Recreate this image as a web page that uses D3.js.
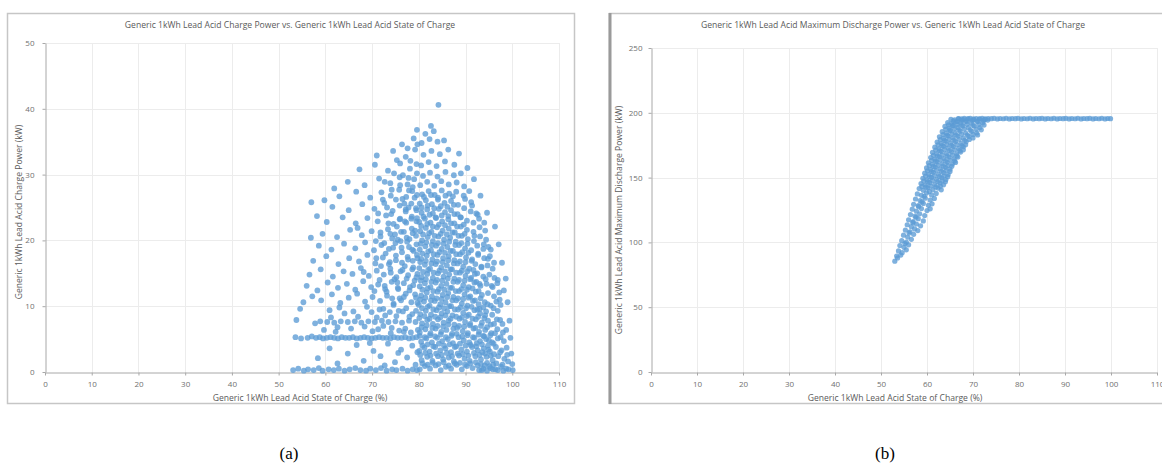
<!DOCTYPE html>
<html>
<head>
<meta charset="utf-8">
<script src="https://cdn.jsdelivr.net/npm/d3@7"></script>
<style>
  body { margin: 0; background: #fff; }
  svg { display: block; font-family: "Open Sans", sans-serif; }
</style>
</head>
<body>
<svg id="chart" width="1162" height="467"></svg>
<script>
// tick labels
const socTicks = [0, 10, 20, 30, 40, 50, 60, 70, 80, 90, 100, 110];
const chargeTicks = [0, 10, 20, 30, 40, 50];
const dischargeTicks = [0, 50, 100, 150, 200, 250];

// (a) charge power vs state of charge, flat lists of [soc %, kW]
const chargeFloor = [53.1,0.3, 54.2,0.5, 55.4,0.2, 56.3,0.4, 57.5,0.3, 58.6,0.6, 59.4,0.2, 60.7,0.4, 61.8,0.3,
  62.9,0.5, 64.1,0.2, 65.2,0.4, 66.4,0.6, 67.5,0.3, 68.7,0.2, 69.6,0.5, 70.8,0.3, 71.9,0.6, 73.1,0.2, 74.3,0.4,
  75.2,0.3, 76.5,0.5, 77.6,0.2, 78.7,0.4, 79.6,0.3, 93.5,0.3, 94.6,0.2, 95.8,0.4, 96.9,0.3, 98.1,0.2, 99.2,0.4, 100.1,0.3];

const chargeBand = [53.6,5.3, 54.8,5.1, 56.2,5.2, 57.1,5.4, 58.0,5.2, 58.8,5.3, 59.5,5.1, 60.3,5.2, 61.1,5.3,
  61.9,5.2, 62.7,5.1, 63.5,5.3, 64.3,5.2, 65.1,5.2, 65.9,5.3, 66.7,5.1, 67.5,5.2, 68.3,5.3, 69.1,5.2, 69.9,5.1,
  70.7,5.2, 71.5,5.3, 72.3,5.2, 73.1,5.2, 73.9,5.1, 74.7,5.3, 75.5,5.2, 76.3,5.2, 77.1,5.3, 77.9,5.1, 78.7,5.2, 79.5,5.3];

const chargeStreak = [57.8,7.4, 58.9,7.7, 59.7,6.4, 60.4,7.6, 61.2,8.3, 61.9,7.5, 62.6,6.8, 63.3,7.7, 64.1,8.9,
  64.8,7.6, 65.5,6.6, 66.3,7.7, 67.0,8.4, 67.7,7.5, 68.4,6.9, 69.2,7.7, 69.9,9.1, 70.6,7.6, 71.3,6.5, 72.1,7.8,
  72.8,8.6, 73.5,7.6, 74.2,6.7, 75.0,7.7, 75.7,9.3, 76.4,7.5, 77.1,6.6, 77.9,7.8, 78.6,8.8, 79.3,7.6, 79.8,6.4,
  60.9,9.4, 63.0,9.8, 66.0,9.2, 68.9,9.9, 71.6,9.5, 74.6,10.2, 77.3,9.7, 62.2,6.1, 70.1,6.2, 76.8,6.1];

const chargeLow = [58.4,2.1, 60.9,3.6, 62.6,1.3, 64.8,2.8, 66.7,4.1, 68.2,1.7, 70.3,3.2, 71.8,2.4, 73.4,4.3,
  74.9,1.5, 76.2,3.4, 77.5,2.2, 78.6,4.0, 79.3,1.1, 75.6,2.9, 72.7,1.0, 69.5,4.4, 79.7,3.0];

const chargeSpread = [55.3,10.6, 57.2,11.5, 59.1,10.9, 61.4,11.8, 63.2,10.5, 65.0,11.3, 66.8,11.9, 68.5,10.7,
  70.1,11.4, 71.7,10.8, 73.2,11.6, 74.6,10.4, 75.9,11.2, 77.2,11.9, 78.4,10.6, 79.4,11.3,
  56.0,13.1, 58.3,12.4, 60.5,13.6, 62.7,12.8, 64.6,13.4, 66.4,12.5, 68.1,13.8, 69.8,12.9, 71.3,13.3, 72.8,12.6,
  74.2,13.7, 75.5,12.8, 76.8,13.5, 78.0,12.4, 79.1,13.9,
  56.6,14.8, 59.0,15.6, 61.6,14.5, 63.9,15.3, 65.8,14.9, 67.6,15.8, 69.3,14.6, 71.0,15.4, 72.5,14.8, 73.9,15.7,
  75.2,14.4, 76.5,15.5, 77.7,14.7, 78.8,15.9, 79.7,14.9,
  57.4,16.9, 60.2,17.6, 62.8,16.4, 65.1,17.3, 67.2,16.8, 69.0,17.8, 70.7,16.5, 72.3,17.4, 73.8,16.7, 75.1,17.7,
  76.4,16.6, 77.6,17.5, 78.7,16.9, 79.6,17.8,
  58.6,19.2, 61.3,18.6, 64.0,19.5, 66.4,18.8, 68.5,19.7, 70.4,18.5, 72.0,19.3, 73.6,18.7, 75.0,19.6, 76.3,18.9,
  77.5,19.8, 78.6,18.6, 79.5,19.4,
  59.4,21.0, 62.5,20.5, 65.3,21.6, 67.8,20.8, 69.9,21.4, 71.8,20.6, 73.4,21.7, 74.9,20.9, 76.2,21.3, 77.4,20.4,
  78.5,21.8, 79.4,20.7,
  60.3,22.8, 63.7,23.5, 66.5,22.6, 69.0,23.4, 71.2,22.9, 73.0,23.8, 74.6,22.5, 76.0,23.3, 77.3,22.7, 78.5,23.6, 79.5,22.9,
  61.5,25.1, 65.0,24.6, 67.9,25.5, 70.5,24.8, 72.6,25.7, 74.4,24.5, 75.9,25.3, 77.2,24.7, 78.4,25.6, 79.4,24.9,
  63.0,26.7, 66.6,27.4, 69.6,26.5, 72.0,27.3, 74.0,26.8, 75.8,27.7, 77.3,26.6, 78.6,27.5, 79.6,26.9,
  64.8,28.9, 68.4,28.4, 71.5,29.4, 73.9,28.7, 75.9,29.6, 77.6,28.5, 79.0,29.3,
  67.3,30.8, 70.6,31.5, 73.4,30.6, 76.0,31.7, 78.1,30.9, 79.5,31.6,
  71.0,32.9, 74.5,33.6, 77.2,32.7, 79.2,33.8, 76.4,34.6, 78.9,35.5,
  53.8,7.9, 54.6,9.6, 56.9,20.4, 58.2,23.7, 59.8,26.1, 61.9,27.9, 57.0,25.8,
  74.3,11.2, 75.6,12.6, 76.8,11.4, 78.1,12.9, 79.2,11.8, 74.8,14.1, 76.1,15.3, 77.4,14.2, 78.6,15.6, 79.5,14.4,
  75.1,17.0, 76.4,18.2, 77.7,17.1, 78.9,18.4, 79.7,17.3, 75.5,20.1, 76.8,21.3, 78.0,20.2, 79.2,21.5,
  75.9,23.2, 77.2,24.4, 78.4,23.3, 79.5,24.6, 76.5,26.3, 77.9,27.6, 79.1,26.5,
  73.1,12.2, 74.0,15.1, 72.9,18.0, 73.9,21.0, 74.1,24.0, 72.4,9.6, 71.9,16.1, 70.8,19.9, 68.2,15.2, 66.9,21.9];

// denser mass just left of 80 %
const chargeMidFill = [70.5,12.3, 71.6,14.0, 72.7,13.1, 73.6,16.4, 74.5,18.9, 75.4,13.6, 76.2,10.9, 77.0,16.1,
  77.9,19.0, 78.8,13.2, 79.7,10.5,
  70.9,17.3, 71.8,21.2, 72.6,19.6, 73.5,22.6, 74.3,20.3, 75.3,22.1, 76.1,19.9, 77.0,22.9, 77.8,25.0, 78.7,21.1, 79.6,23.4,
  71.3,24.1, 72.3,26.2, 73.2,25.0, 74.2,27.7, 75.1,26.2, 76.0,28.4, 76.9,25.6, 77.8,29.5, 78.7,28.1, 79.6,30.2,
  72.7,28.9, 74.7,30.2, 76.6,29.9, 78.2,32.1, 79.7,34.6, 75.3,32.2, 77.6,34.0,
  73.8,9.1, 75.2,8.5, 76.6,9.2, 78.0,8.4, 79.4,9.3, 71.0,8.3, 72.4,7.0, 74.0,5.9, 75.8,6.3, 78.3,6.0];

const chargeCore = [80.2,0.4, 81.3,0.9, 82.4,0.5, 83.6,1.0, 84.7,0.3, 85.8,0.8, 86.9,0.5, 88.1,1.1, 89.2,0.4,
  90.3,0.9, 91.5,0.6, 92.6,1.0, 93.8,0.5, 95.1,0.9, 96.4,0.4, 97.6,0.8, 98.7,0.5,
  80.6,1.8, 81.8,2.3, 82.9,1.7, 84.1,2.4, 85.2,1.9, 86.4,2.2, 87.5,1.6, 88.6,2.5, 89.8,2.0, 90.9,1.7, 92.1,2.4,
  93.3,1.9, 94.5,2.3, 95.8,1.8, 97.0,2.4, 98.3,2.0, 99.1,1.6,
  80.1,3.2, 81.2,3.7, 82.3,3.1, 83.5,3.8, 84.6,3.3, 85.7,3.6, 86.9,3.0, 88.0,3.9, 89.1,3.4, 90.3,3.1, 91.4,3.8,
  92.6,3.3, 93.9,3.6, 95.2,3.1, 96.5,3.8, 97.7,3.3, 98.8,3.7,
  80.5,4.6, 81.6,5.1, 82.8,4.5, 83.9,5.2, 85.0,4.7, 86.2,5.0, 87.3,4.4, 88.5,5.3, 89.6,4.8, 90.8,4.5, 91.9,5.2,
  93.1,4.7, 94.4,5.0, 95.7,4.5, 96.9,5.1, 98.2,4.7,
  80.2,6.0, 81.4,6.5, 82.5,5.9, 83.6,6.6, 84.8,6.1, 85.9,6.4, 87.1,5.8, 88.2,6.7, 89.4,6.2, 90.5,5.9, 91.7,6.6,
  92.9,6.1, 94.2,6.4, 95.5,5.9, 96.8,6.5, 98.0,6.0,
  80.7,7.4, 81.8,7.9, 83.0,7.3, 84.1,8.0, 85.3,7.5, 86.4,7.8, 87.6,7.2, 88.7,8.1, 89.9,7.6, 91.0,7.3, 92.2,8.0,
  93.5,7.5, 94.8,7.8, 96.1,7.3, 97.4,7.9,
  80.3,8.8, 81.5,9.3, 82.6,8.7, 83.8,9.4, 84.9,8.9, 86.1,9.2, 87.2,8.6, 88.4,9.5, 89.5,9.0, 90.7,8.7, 91.9,9.4,
  93.1,8.9, 94.4,9.2, 95.7,8.7, 96.9,9.3,
  80.0,10.2, 81.1,10.7, 82.3,10.1, 83.4,10.8, 84.6,10.3, 85.7,10.6, 86.9,10.0, 88.0,10.9, 89.2,10.4, 90.4,10.1,
  91.6,10.8, 92.8,10.3, 94.1,10.6, 95.4,10.1, 96.6,10.7, 97.5,10.2,
  80.5,11.6, 81.7,12.1, 82.8,11.5, 84.0,12.2, 85.1,11.7, 86.3,12.0, 87.4,11.4, 88.6,12.3, 89.8,11.8, 91.0,11.5,
  92.2,12.2, 93.5,11.7, 94.8,12.0, 96.1,11.5, 97.2,12.1,
  80.2,13.0, 81.3,13.5, 82.5,12.9, 83.6,13.6, 84.8,13.1, 85.9,13.4, 87.1,12.8, 88.3,13.7, 89.5,13.2, 90.7,12.9,
  91.9,13.6, 93.2,13.1, 94.5,13.4, 95.8,12.9, 96.8,13.5,
  80.6,14.4, 81.8,14.9, 83.0,14.3, 84.1,15.0, 85.3,14.5, 86.5,14.8, 87.6,14.2, 88.8,15.1, 90.0,14.6, 91.2,14.3,
  92.5,15.0, 93.8,14.5, 95.1,14.8, 96.2,14.3,
  80.1,15.8, 81.3,16.3, 82.4,15.7, 83.6,16.4, 84.8,15.9, 86.0,16.2, 87.1,15.6, 88.3,16.5, 89.5,16.0, 90.8,15.7,
  92.1,16.4, 93.4,15.9, 94.7,16.2, 95.8,15.7,
  80.5,17.2, 81.7,17.7, 82.9,17.1, 84.0,17.8, 85.2,17.3, 86.4,17.6, 87.6,17.0, 88.8,17.9, 90.1,17.4, 91.4,17.1,
  92.7,17.8, 94.0,17.3, 95.2,17.6,
  80.2,18.6, 81.4,19.1, 82.6,18.5, 83.7,19.2, 84.9,18.7, 86.1,19.0, 87.3,18.4, 88.6,19.3, 89.9,18.8, 91.2,18.5,
  92.5,19.2, 93.8,18.7, 94.9,19.0,
  80.7,20.0, 81.9,20.5, 83.0,19.9, 84.2,20.6, 85.4,20.1, 86.7,20.4, 87.9,19.8, 89.2,20.7, 90.5,20.2, 91.8,19.9,
  93.1,20.6, 94.4,20.1,
  80.3,21.4, 81.5,21.9, 82.7,21.3, 83.9,22.0, 85.1,21.5, 86.4,21.8, 87.7,21.2, 89.0,22.1, 90.3,21.6, 91.7,21.3,
  93.0,22.0, 94.2,21.5,
  80.1,22.8, 81.3,23.3, 82.5,22.7, 83.7,23.4, 85.0,22.9, 86.3,23.2, 87.6,22.6, 88.9,23.5, 90.3,23.0, 91.7,22.7, 92.9,23.3,
  80.6,24.2, 81.8,24.7, 83.0,24.1, 84.3,24.8, 85.6,24.3, 86.9,24.6, 88.3,24.0, 89.7,24.9, 91.1,24.4, 92.3,24.1,
  80.2,25.6, 81.5,26.1, 82.8,25.5, 84.1,26.2, 85.5,25.7, 86.9,26.0, 88.4,25.4, 89.9,26.3, 91.2,25.8,
  80.7,27.0, 82.1,27.5, 83.4,26.9, 84.9,27.6, 86.5,27.1, 88.0,27.4, 89.6,26.8, 90.8,27.5,
  80.3,28.4, 81.8,28.9, 83.3,28.3, 84.8,29.0, 86.4,28.5, 88.1,28.8, 89.7,28.2,
  80.9,29.8, 82.4,30.3, 84.0,29.7, 85.7,30.4, 87.5,29.9, 89.0,30.2,
  80.5,31.4, 82.1,31.9, 83.8,31.3, 85.6,32.0, 87.6,31.5,
  81.0,33.0, 82.7,33.6, 84.5,33.1, 86.3,33.8,
  80.6,34.8, 82.3,35.4, 84.0,35.0, 83.2,36.6, 81.4,36.2];

// second, offset pass through the dense core
const chargeCoreFill = [80.8,1.3, 81.9,1.1, 83.0,1.4, 84.2,1.2, 85.3,1.5, 86.4,1.0, 87.7,1.3, 88.8,1.4, 89.9,1.1,
  91.0,1.3, 92.2,1.5, 93.3,1.2, 94.6,1.4, 95.9,1.1,
  80.3,2.6, 81.4,2.9, 82.5,2.5, 83.7,2.8, 84.9,2.6, 86.0,2.9, 87.1,2.4, 88.3,2.8, 89.4,2.7, 90.6,2.5, 91.8,2.9,
  93.0,2.6, 94.2,2.8, 95.4,2.5,
  80.8,4.0, 81.9,4.2, 83.1,3.9, 84.3,4.3, 85.4,4.0, 86.6,4.2, 87.7,3.8, 88.8,4.3, 90.0,4.0, 91.1,4.1, 92.3,3.9,
  93.5,4.2, 94.8,4.0, 96.0,4.3,
  80.2,5.5, 81.3,5.3, 82.4,5.6, 83.5,5.4, 84.7,5.7, 85.8,5.3, 87.0,5.5, 88.1,5.8, 89.3,5.4, 90.4,5.6, 91.6,5.3,
  92.8,5.7, 94.0,5.4, 95.3,5.6,
  80.6,6.8, 81.7,7.1, 82.9,6.7, 84.0,7.0, 85.2,6.9, 86.3,7.2, 87.4,6.6, 88.6,7.0, 89.7,6.9, 90.9,7.1, 92.1,6.7,
  93.3,7.0, 94.6,6.8,
  80.1,8.2, 81.2,8.5, 82.3,8.1, 83.5,8.4, 84.6,8.3, 85.7,8.6, 86.8,8.1, 88.0,8.4, 89.2,8.3, 90.3,8.5, 91.5,8.1,
  92.7,8.4, 94.0,8.2,
  80.7,9.7, 81.9,9.9, 83.1,9.5, 84.3,9.8, 85.4,9.7, 86.5,10.0, 87.7,9.5, 88.9,9.8, 90.1,9.7, 91.3,9.9, 92.5,9.5, 93.8,9.8,
  80.3,11.0, 81.4,11.3, 82.6,10.9, 83.8,11.2, 84.9,11.1, 86.1,11.4, 87.2,10.9, 88.4,11.2, 89.5,11.1, 90.7,11.3,
  92.0,10.9, 93.2,11.2,
  80.8,12.5, 81.9,12.7, 83.1,12.3, 84.3,12.6, 85.5,12.5, 86.7,12.8, 87.9,12.3, 89.1,12.6, 90.3,12.5, 91.5,12.7, 92.8,12.3,
  80.4,13.9, 81.5,14.1, 82.7,13.7, 83.9,14.0, 85.0,13.9, 86.2,14.2, 87.4,13.7, 88.6,14.0, 89.8,13.9, 91.0,14.1, 92.3,13.7,
  80.9,15.2, 82.0,15.5, 83.2,15.1, 84.4,15.4, 85.6,15.3, 86.8,15.6, 88.0,15.1, 89.2,15.4, 90.4,15.3, 91.7,15.5,
  80.3,16.7, 81.5,16.9, 82.7,16.5, 83.9,16.8, 85.1,16.7, 86.3,17.0, 87.5,16.5, 88.8,16.8, 90.0,16.7, 91.3,16.9,
  80.8,18.0, 82.0,18.3, 83.2,17.9, 84.4,18.2, 85.6,18.1, 86.8,18.4, 88.0,17.9, 89.3,18.2, 90.6,18.1,
  80.4,19.5, 81.6,19.7, 82.8,19.3, 84.1,19.6, 85.3,19.5, 86.5,19.8, 87.8,19.3, 89.1,19.6, 90.4,19.5,
  80.9,20.9, 82.2,21.1, 83.4,20.7, 84.7,21.0, 86.0,20.9, 87.2,21.2, 88.5,20.7, 89.8,21.0,
  80.5,22.2, 81.8,22.5, 83.0,22.1, 84.3,22.4, 85.6,22.3, 86.9,22.6, 88.2,22.1, 89.6,22.4,
  81.0,23.6, 82.3,23.9, 83.6,23.5, 84.9,23.8, 86.3,23.7, 87.6,24.0, 89.0,23.5,
  80.6,25.0, 81.9,25.3, 83.3,24.9, 84.7,25.2, 86.1,25.1, 87.5,25.4,
  81.1,26.6, 82.6,26.9, 84.1,26.5, 85.7,26.8, 87.3,26.7];

// right flank, 92-99 %
const chargeRightFill = [92.9,0.3, 94.1,1.0, 95.3,0.6, 96.6,1.3, 97.9,1.1, 98.9,2.6, 97.4,3.0, 96.1,2.7, 94.9,3.4,
  93.6,3.0, 92.4,4.4, 93.8,5.5, 95.0,4.8, 96.3,5.9, 97.5,5.3, 98.7,6.4, 97.9,7.3, 96.7,8.0, 95.4,7.2, 94.2,8.6,
  93.0,9.6, 94.7,10.3, 96.0,9.7, 97.3,11.0, 98.2,12.4, 96.9,14.0, 95.6,13.1, 94.3,14.1, 93.0,13.4, 92.0,14.9,
  93.4,16.0, 94.8,17.2, 96.1,16.6, 95.4,18.6, 93.9,19.4, 92.7,18.0, 91.9,20.7, 92.6,23.9, 94.0,22.7, 91.4,25.3];

const chargeOutliers = [84.2,40.6, 82.6,37.4, 79.6,36.8, 85.4,35.2, 88.6,33.2, 90.4,31.0, 91.8,29.3, 93.2,26.8,
  94.6,24.2, 96.3,22.1, 97.1,19.4, 97.8,16.6, 98.6,14.2, 99.0,10.6, 99.4,7.8, 99.6,5.2, 99.8,2.8, 100.0,1.2];

// (b) maximum discharge power vs state of charge, flat lists of [soc %, kW]
const dischargeRamp = [53.0,85.5, 53.6,88.0, 53.4,89.5, 54.3,90.2, 53.8,93.4, 54.6,92.1, 55.5,94.3,
  54.1,97.6, 55.0,96.2, 56.0,98.1, 54.5,101.3, 55.5,100.2, 56.6,102.4, 54.9,105.6, 55.8,104.1, 57.1,106.2,
  55.3,109.5, 56.3,108.2, 57.3,110.4, 58.0,109.1, 55.7,113.6, 56.6,112.1, 57.7,114.2, 58.6,112.8,
  56.0,117.4, 57.0,116.1, 58.1,118.3, 59.2,116.6, 56.4,121.5, 57.4,120.2, 58.4,122.1, 59.5,120.7,
  56.8,125.6, 57.7,124.2, 58.8,126.1, 60.0,124.6, 60.7,125.9, 57.1,129.4, 58.1,128.3, 59.2,130.1, 60.3,128.6, 61.1,129.8,
  57.5,133.5, 58.5,132.2, 59.6,134.1, 60.7,132.7, 61.6,133.9, 57.9,137.4, 58.8,136.3, 59.9,138.2, 61.0,136.6, 62.0,137.8,
  58.3,141.5, 59.2,140.2, 60.2,142.1, 61.3,140.7, 62.4,141.9, 63.1,140.6,
  58.7,145.4, 59.6,144.3, 60.6,146.1, 61.7,144.6, 62.8,145.8, 63.6,144.4,
  59.1,149.5, 60.0,148.2, 61.0,150.1, 62.1,148.7, 63.2,149.9, 64.1,148.5,
  59.5,153.4, 60.4,152.3, 61.4,154.1, 62.5,152.6, 63.6,153.8, 64.6,152.4,
  59.9,157.5, 60.8,156.2, 61.8,158.1, 62.9,156.7, 64.0,157.9, 65.0,156.5,
  60.3,161.4, 61.2,160.3, 62.2,162.1, 63.3,160.6, 64.4,161.8, 65.5,160.4, 66.2,161.7,
  60.8,165.5, 61.7,164.2, 62.7,166.1, 63.7,164.7, 64.8,165.9, 65.9,164.5, 66.7,165.8,
  61.2,169.4, 62.1,168.3, 63.1,170.1, 64.2,168.6, 65.3,169.8, 66.4,168.4, 67.3,169.7,
  61.7,173.5, 62.6,172.2, 63.6,174.1, 64.6,172.7, 65.7,173.9, 66.9,172.5, 67.9,173.8,
  62.2,177.4, 63.1,176.3, 64.1,178.1, 65.1,176.6, 66.2,177.8, 67.4,176.4, 68.5,177.7,
  62.7,181.5, 63.6,180.2, 64.6,182.1, 65.6,180.7, 66.7,181.9, 67.9,180.5, 69.1,181.8, 70.0,180.6,
  63.3,185.4, 64.2,184.3, 65.1,186.1, 66.1,184.6, 67.2,185.8, 68.4,184.4, 69.7,185.7, 70.8,184.5,
  63.9,189.5, 64.8,188.2, 65.7,190.1, 66.7,188.7, 67.8,189.9, 69.0,188.5, 70.3,189.8, 71.5,188.6,
  64.5,192.4, 65.4,191.6, 66.3,193.1, 67.3,192.2, 68.4,193.4, 69.6,192.0, 70.9,193.2, 72.1,192.3,
  65.2,195.0, 66.0,194.6, 66.9,195.4, 67.9,194.8, 69.0,195.3, 70.2,194.7, 71.4,195.2, 72.5,194.9];

// second, offset pass through the upper ramp
const dischargeRampFill = [58.9,143.2, 59.8,142.6, 60.8,143.5, 61.9,142.8, 62.9,143.4,
  59.3,147.3, 60.2,146.7, 61.2,147.6, 62.3,146.9, 63.3,147.5, 64.0,146.8,
  59.7,151.2, 60.6,150.6, 61.6,151.5, 62.7,150.8, 63.7,151.4, 64.5,150.7,
  60.1,155.3, 61.0,154.7, 62.0,155.6, 63.1,154.9, 64.1,155.5, 65.0,154.8,
  60.5,159.2, 61.4,158.6, 62.4,159.5, 63.5,158.8, 64.5,159.4, 65.4,158.7,
  61.0,163.3, 61.9,162.7, 62.9,163.6, 64.0,162.9, 65.0,163.5, 66.0,162.8,
  61.4,167.2, 62.3,166.6, 63.3,167.5, 64.4,166.8, 65.5,167.4, 66.5,166.7,
  61.9,171.3, 62.8,170.7, 63.8,171.6, 64.9,170.9, 66.0,171.5, 67.1,170.8, 67.9,171.4,
  62.4,175.2, 63.3,174.6, 64.3,175.5, 65.4,174.8, 66.5,175.4, 67.6,174.7, 68.4,175.3,
  62.9,179.3, 63.8,178.7, 64.8,179.6, 65.9,178.9, 67.0,179.5, 68.2,178.8, 69.2,179.4,
  63.5,183.2, 64.4,182.6, 65.4,183.5, 66.4,182.8, 67.5,183.4, 68.8,182.7, 70.0,183.3, 71.0,182.9,
  64.1,187.3, 65.0,186.7, 66.0,187.6, 67.0,186.9, 68.1,187.5, 69.4,186.8, 70.7,187.4, 71.8,186.9,
  64.7,190.7, 65.6,190.2, 66.6,191.0, 67.6,190.4, 68.7,191.1, 70.0,190.3, 71.3,190.9, 72.4,190.5,
  65.7,193.8, 66.6,193.3, 67.6,194.1, 68.7,193.5, 69.9,194.0, 71.1,193.4, 72.3,193.9, 73.2,194.4,
  55.2,99.1, 56.1,107.3, 56.9,115.2, 57.6,119.4, 58.2,127.7, 58.9,131.2, 59.4,135.6, 60.5,139.3];

const dischargeFlat = [66.8,195.6, 67.5,195.3, 68.1,195.8, 68.8,195.4, 69.4,195.7, 70.1,195.3, 70.7,195.6,
  71.4,195.4, 72.0,195.8, 72.7,195.3, 73.3,195.6, 74.0,195.5, 74.6,195.7, 75.3,195.3, 75.9,195.6, 76.6,195.4,
  77.2,195.8, 77.9,195.3, 78.5,195.6, 79.2,195.5, 79.8,195.7, 80.5,195.3, 81.1,195.6, 81.8,195.4, 82.4,195.8,
  83.1,195.3, 83.7,195.6, 84.4,195.5, 85.0,195.7, 85.7,195.3, 86.3,195.6, 87.0,195.4, 87.6,195.8, 88.3,195.3,
  88.9,195.6, 89.6,195.5, 90.2,195.7, 90.9,195.3, 91.5,195.6, 92.2,195.4, 92.8,195.8, 93.5,195.3, 94.1,195.6,
  94.8,195.5, 95.4,195.7, 96.1,195.3, 96.7,195.6, 97.4,195.4, 98.0,195.8, 98.7,195.3, 99.3,195.6, 99.9,195.5];

function pairs(flat) {
  const out = [];
  for (let i = 0; i < flat.length; i += 2) out.push([flat[i], flat[i + 1]]);
  return out;
}

const svg = d3.select('#chart');
const pointColor = '#5b9bd5';

function drawPanel(p) {
  const g = svg.append('g');

  // chart frame
  g.append('rect')
    .attr('x', p.frame[0]).attr('y', p.frame[1])
    .attr('width', p.frame[2]).attr('height', p.frame[3])
    .attr('fill', '#fff')
    .attr('stroke', '#c6c6c6')
    .attr('stroke-width', 1.5);

  const x = d3.scaleLinear().domain([0, 110]).range([p.left, p.right]);
  const y = d3.scaleLinear().domain([0, p.yTicks[p.yTicks.length - 1]]).range([p.bottom, p.top]);

  // gridlines
  const grid = g.append('g').attr('stroke', '#ececec').attr('stroke-width', 1);
  grid.selectAll('.vx').data(socTicks.slice(1)).join('line')
    .attr('x1', d => Math.round(x(d)) + 0.5).attr('x2', d => Math.round(x(d)) + 0.5)
    .attr('y1', p.top).attr('y2', p.bottom);
  grid.selectAll('.hy').data(p.yTicks.slice(1)).join('line')
    .attr('x1', p.left).attr('x2', p.right)
    .attr('y1', d => Math.round(y(d)) + 0.5).attr('y2', d => Math.round(y(d)) + 0.5);

  // axes
  const xAxis = g.append('g')
    .attr('transform', `translate(0,${Math.round(p.bottom) + 0.5})`)
    .call(d3.axisBottom(x).tickValues(socTicks).tickSizeInner(3).tickSizeOuter(0).tickPadding(6));
  const yAxis = g.append('g')
    .attr('transform', `translate(${Math.round(p.left) + 0.5},0)`)
    .call(d3.axisLeft(y).tickValues(p.yTicks).tickSizeInner(3).tickSizeOuter(0).tickPadding(p.yPad));
  [xAxis, yAxis].forEach(a => {
    a.select('.domain').attr('stroke', '#a8a8a8');
    a.selectAll('.tick line').attr('stroke', '#a8a8a8');
    a.selectAll('.tick text').attr('fill', '#707070').style('font-size', '8px')
      .style('font-family', '"Open Sans", sans-serif');
  });

  // points
  g.append('g').selectAll('circle').data(p.points).join('circle')
    .attr('cx', d => x(d[0]))
    .attr('cy', d => y(d[1]))
    .attr('r', p.r)
    .attr('fill', pointColor)
    .attr('fill-opacity', 0.78);

  // titles
  g.append('text')
    .attr('x', p.titleX).attr('y', 28)
    .attr('text-anchor', 'middle')
    .attr('fill', '#5a5a5a').style('font-size', '8.6px')
    .text(p.title);
  g.append('text')
    .attr('x', p.xTitleX).attr('y', 401)
    .attr('text-anchor', 'middle')
    .attr('fill', '#5a5a5a').style('font-size', '8.6px')
    .text('Generic 1kWh Lead Acid State of Charge (%)');
  g.append('text')
    .attr('transform', `translate(${p.yTitleX},${p.yTitleY}) rotate(-90)`)
    .attr('text-anchor', 'middle')
    .attr('fill', '#5a5a5a').style('font-size', '8.6px')
    .text(p.yTitle);

  // caption below the frame
  svg.append('text')
    .attr('x', p.caption[0]).attr('y', p.caption[1])
    .attr('text-anchor', 'middle')
    .style('font-family', '"Liberation Serif", "Times New Roman", serif')
    .style('font-size', '17px')
    .attr('fill', '#000')
    .text(p.captionText);
}

drawPanel({
  frame: [7.5, 13.5, 567, 390],
  left: 45, right: 559, top: 43, bottom: 372,
  yTicks: chargeTicks, yPad: 8,
  r: 2.9,
  points: [].concat(pairs(chargeFloor), pairs(chargeLow), pairs(chargeBand), pairs(chargeStreak),
    pairs(chargeSpread), pairs(chargeMidFill), pairs(chargeCore), pairs(chargeCoreFill),
    pairs(chargeRightFill), pairs(chargeOutliers)),
  title: 'Generic 1kWh Lead Acid Charge Power vs. Generic 1kWh Lead Acid State of Charge',
  titleX: 290, xTitleX: 300,
  yTitle: 'Generic 1kWh Lead Acid Charge Power (kW)',
  yTitleX: 22, yTitleY: 212,
  caption: [289, 459], captionText: '(a)'
});

drawPanel({
  frame: [609.5, 13.5, 560, 390],
  left: 651, right: 1157, top: 48, bottom: 372,
  yTicks: dischargeTicks, yPad: 6,
  r: 2.6,
  points: [].concat(pairs(dischargeRamp), pairs(dischargeRampFill), pairs(dischargeFlat)),
  title: 'Generic 1kWh Lead Acid Maximum Discharge Power vs. Generic 1kWh Lead Acid State of Charge',
  titleX: 893, xTitleX: 895,
  yTitle: 'Generic 1kWh Lead Acid Maximum Discharge Power (kW)',
  yTitleX: 622, yTitleY: 220,
  caption: [885, 459], captionText: '(b)'
});

// darker left edge of the second frame
svg.append('line')
  .attr('x1', 610).attr('x2', 610).attr('y1', 13).attr('y2', 404)
  .attr('stroke', '#9a9a9a').attr('stroke-width', 3);
</script>
</body>
</html>
